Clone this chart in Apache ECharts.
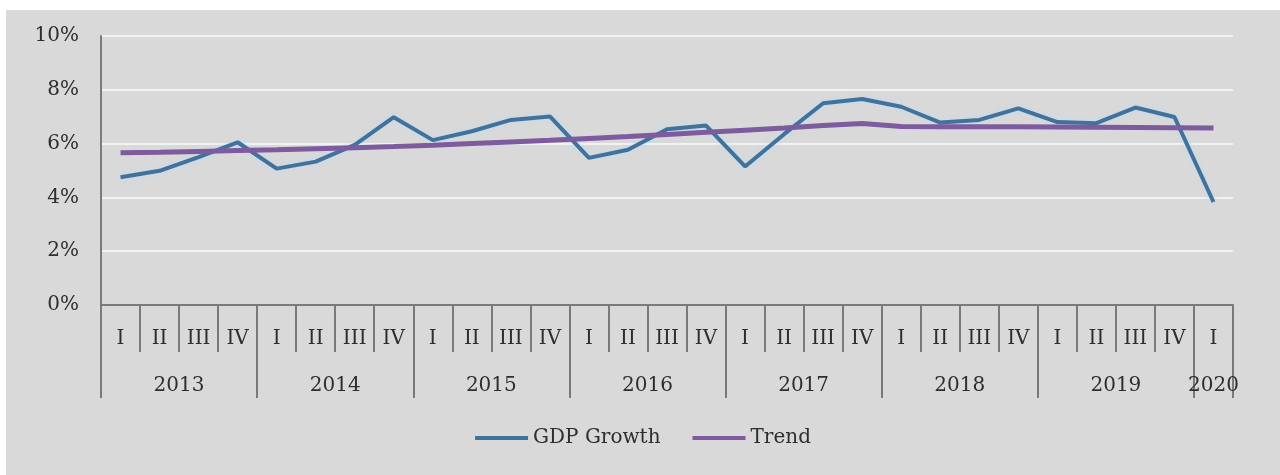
<!DOCTYPE html>
<html>
<head>
<meta charset="utf-8">
<title>GDP Growth and Trend</title>
<script src="https://cdn.jsdelivr.net/npm/echarts@6/dist/echarts.min.js"></script>
<style>
  html, body { margin: 0; padding: 0; background: #ffffff; }
  #chart { position: absolute; left: 6px; top: 10px; width: 1274px; height: 465px; }
</style>
</head>
<body>
<div id="chart"></div>
<script>
// Quarter labels along the axis (2013 Q1 .. 2020 Q1)
const quarterLabels = [
  'I','II','III','IV', 'I','II','III','IV', 'I','II','III','IV', 'I','II','III','IV',
  'I','II','III','IV', 'I','II','III','IV', 'I','II','III','IV', 'I'
];
// Year groups and how many quarters each spans
const yearLabels = ['2013','2014','2015','2016','2017','2018','2019','2020'];
const yearQuarterCounts = [4, 4, 4, 4, 4, 4, 4, 1];

// Year-on-year GDP growth, percent
const gdpGrowth = [
  4.75, 4.99, 5.50, 6.05, 5.07, 5.33, 5.95, 6.98,
  6.13, 6.46, 6.88, 7.01, 5.47, 5.77, 6.53, 6.67,
  5.15, 6.35, 7.50, 7.66, 7.37, 6.78, 6.88, 7.31,
  6.80, 6.76, 7.34, 6.99, 3.83
];
// Smoothed trend, percent
const trend = [
  5.66, 5.68, 5.71, 5.74, 5.77, 5.81, 5.85, 5.89,
  5.94, 6.00, 6.06, 6.12, 6.19, 6.26, 6.34, 6.42,
  6.50, 6.58, 6.67, 6.75, 6.64, 6.63, 6.63, 6.63,
  6.62, 6.61, 6.60, 6.59, 6.58
];

// Y axis range and step (percent)
const yMin = 0, yMax = 10, yStep = 2;

// Boundaries and centres of the year groups, in quarter units
const yearBounds = [0];
const yearCenters = [];
yearQuarterCounts.forEach(function (n) {
  const start = yearBounds[yearBounds.length - 1];
  yearCenters.push(start + n / 2);
  yearBounds.push(start + n);
});

const FONT = 'DejaVu Serif';
const TEXT = '#2e2e2e';
const AXIS = '#7a7a7a';

const chart = echarts.init(document.getElementById('chart'));
chart.setOption({
  backgroundColor: '#d9d9d9',
  animation: false,
  textStyle: { fontFamily: FONT, color: TEXT },
  grid: { left: 95, right: 47, top: 26, bottom: 170, containLabel: false },
  legend: {
    bottom: 22,
    left: 'center',
    icon: 'rect',
    itemWidth: 53,
    itemHeight: 4,
    itemGap: 32,
    textStyle: { fontFamily: FONT, fontSize: 20, color: TEXT },
    data: ['GDP Growth', 'Trend']
  },
  xAxis: [
    {
      type: 'category',
      data: quarterLabels,
      boundaryGap: true,
      position: 'bottom',
      axisLine: { show: true, lineStyle: { color: AXIS, width: 2 } },
      axisTick: { show: true, interval: 0, length: 47, lineStyle: { color: AXIS, width: 2 } },
      axisLabel: { interval: 0, margin: 24, fontFamily: FONT, fontSize: 20, color: TEXT },
      splitLine: { show: false }
    },
    {
      type: 'value',
      min: 0,
      max: yearBounds[yearBounds.length - 1],
      position: 'bottom',
      axisLine: { show: false },
      splitLine: { show: false },
      axisTick: {
        show: true,
        customValues: yearBounds,
        length: 93,
        lineStyle: { color: AXIS, width: 2 }
      },
      axisLabel: {
        show: true,
        customValues: yearCenters,
        margin: 71,
        fontFamily: FONT,
        fontSize: 20,
        color: TEXT,
        formatter: function (v) {
          const i = yearCenters.indexOf(v);
          return i >= 0 ? yearLabels[i] : '';
        }
      }
    }
  ],
  yAxis: {
    type: 'value',
    min: yMin,
    max: yMax,
    interval: yStep,
    axisLine: { show: true, lineStyle: { color: AXIS, width: 2 } },
    axisTick: { show: false },
    axisLabel: { margin: 22, fontFamily: FONT, fontSize: 20, color: TEXT, formatter: '{value}%' },
    splitLine: { show: true, lineStyle: { color: '#f2f2f2', width: 2 } }
  },
  series: [
    {
      name: 'GDP Growth',
      type: 'line',
      xAxisIndex: 0,
      data: gdpGrowth,
      showSymbol: false,
      symbol: 'none',
      color: '#41729c',
      lineStyle: {
        color: '#41729c',
        width: 4,
        shadowColor: 'rgba(190,220,245,0.9)',
        shadowBlur: 5
      }
    },
    {
      name: 'Trend',
      type: 'line',
      xAxisIndex: 0,
      data: trend,
      showSymbol: false,
      symbol: 'none',
      color: '#7d5b9e',
      lineStyle: { color: '#7d5b9e', width: 5 }
    }
  ]
});
</script>
</body>
</html>
